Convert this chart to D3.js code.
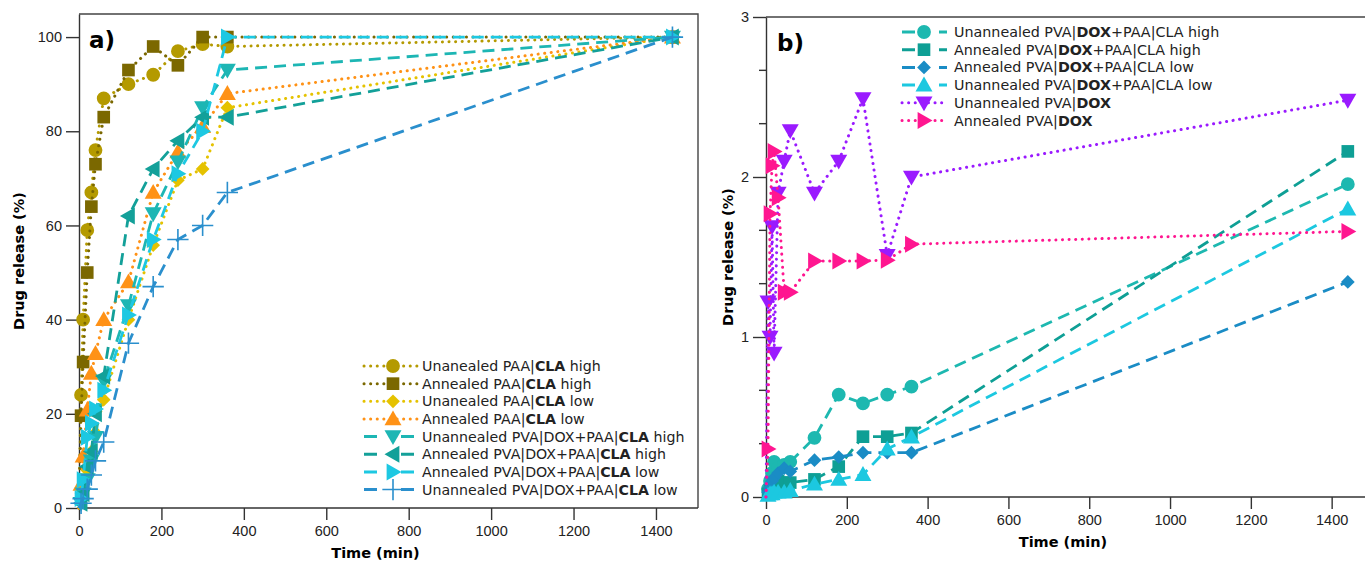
<!DOCTYPE html>
<html>
<head>
<meta charset="utf-8">
<script src="https://cdn.jsdelivr.net/npm/d3@7"></script>
<style>
  body { margin: 0; background: #fff; }
  svg { font-family: "DejaVu Sans", sans-serif; }
  .tick text { font-size: 14.5px; fill: #222; }
  .axis path, .axis line { stroke: #333; stroke-width: 1.4; }
</style>
</head>
<body>
<script>
var W = 1365, H = 565;

// ---- panel a data (time in min, release in %) ----
var timeA = [0, 5, 10, 20, 30, 40, 60, 120, 180, 240, 300, 360, 1440];
var unPaaHigh = [0, 24, 40, 59, 67, 76, 87, 90, 92, 97, 98.5, 98, 100];
var anPaaHigh = [0, 19.6, 31, 50, 64, 73, 83, 93, 98, 94, 100, 100, 100];
var unPaaLow = [0, 2, 4, 8, 12, 16, 23, 40, 55.8, 69.6, 72, 85, 100];
var anPaaLow = [0, 5, 11, 20.8, 28.6, 32.8, 40, 48, 67, 75.6, 81, 88, 100];
var unPvaPaaHigh = [0, 1, 3, 6, 10, 15, 27, 43, 62.5, 73.5, 85, 93, 100];
var anPvaPaaHigh = [0, 1, 3, 8.8, 12, 20, 28, 62, 72, 78, 83, 83, 100];
var anPvaPaaLow = [0, 2, 6, 15, 18, 21, 25, 41, 57, 71, 80, 100, 100];
var unPvaPaaLow = [0, 1, 2, 4, 7, 10, 14, 35, 47, 57, 60, 67, 100];
var ticksAx = [0, 200, 400, 600, 800, 1000, 1200, 1400];
var ticksAy = [0, 20, 40, 60, 80, 100];

// ---- panel b data ----
var timeB = [0, 5, 10, 15, 20, 30, 45, 60, 120, 180, 240, 300, 360, 1440];
var unDoxPaaHigh = [0, 0.05, 0.1, 0.15, 0.22, 0.18, 0.2, 0.22, 0.37, 0.64, 0.585, 0.64, 0.69, 1.955];
var anDoxPaaHigh = [0, 0.02, 0.04, 0.06, 0.08, 0.1, 0.09, 0.09, 0.11, 0.19, 0.377, 0.377, 0.40, 2.16];
var anDoxPaaLow = [0, 0.03, 0.06, 0.1, 0.12, 0.15, 0.18, 0.16, 0.23, 0.25, 0.277, 0.277, 0.277, 1.344];
var unDoxPaaLow = [0, 0.01, 0.02, 0.02, 0.03, 0.03, 0.03, 0.04, 0.08, 0.11, 0.14, 0.30, 0.375, 1.80];
var unDox = [0, 1.22, 1.0, 1.69, 0.9, 1.90, 2.10, 2.29, 1.90, 2.10, 2.49, 1.51, 2.0, 2.48];
var anDox = [0, 0.3, 1.77, 2.07, 2.16, 1.87, 1.28, 1.28, 1.475, 1.475, 1.475, 1.48, 1.58, 1.66];
var ticksBx = [0, 200, 400, 600, 800, 1000, 1200, 1400];
var ticksBy = [0, 1, 2, 3];
var minorBy = [1/3, 2/3, 4/3, 5/3, 7/3, 8/3];

var DOT = "0.1,6.5", DASH = "12,7";

// legend label parts: [text, bold?]
var seriesA = [
  { name: [["Unanealed PAA|", 0], ["CLA", 1], [" high", 0]], vals: unPaaHigh, color: "#b49a00", sym: "circle", dash: DOT },
  { name: [["Annealed PAA|", 0], ["CLA", 1], [" high", 0]], vals: anPaaHigh, color: "#7b6800", sym: "square", dash: DOT },
  { name: [["Unanealed PAA|", 0], ["CLA", 1], [" low", 0]], vals: unPaaLow, color: "#e5c200", sym: "diamond", dash: DOT },
  { name: [["Annealed PAA|", 0], ["CLA", 1], [" low", 0]], vals: anPaaLow, color: "#ff9216", sym: "up", dash: DOT },
  { name: [["Unannealed PVA|DOX+PAA|", 0], ["CLA", 1], [" high", 0]], vals: unPvaPaaHigh, color: "#1db6b4", sym: "down", dash: DASH },
  { name: [["Annealed PVA|DOX+PAA|", 0], ["CLA", 1], [" high", 0]], vals: anPvaPaaHigh, color: "#13a099", sym: "left", dash: DASH },
  { name: [["Annealed PVA|DOX+PAA|", 0], ["CLA", 1], [" low", 0]], vals: anPvaPaaLow, color: "#1dc8e2", sym: "right", dash: DASH },
  { name: [["Unannealed PVA|DOX+PAA|", 0], ["CLA", 1], [" low", 0]], vals: unPvaPaaLow, color: "#2a8fcd", sym: "plus", dash: DASH }
];
var seriesB = [
  { name: [["Unannealed PVA|", 0], ["DOX", 1], ["+PAA|CLA high", 0]], vals: unDoxPaaHigh, color: "#1db8b0", sym: "circle", dash: DASH },
  { name: [["Annealed PVA|", 0], ["DOX", 1], ["+PAA|CLA high", 0]], vals: anDoxPaaHigh, color: "#0e9f95", sym: "square", dash: DASH },
  { name: [["Annealed PVA|", 0], ["DOX", 1], ["+PAA|CLA low", 0]], vals: anDoxPaaLow, color: "#1a8cc5", sym: "diamond", dash: DASH },
  { name: [["Unannealed PVA|", 0], ["DOX", 1], ["+PAA|CLA low", 0]], vals: unDoxPaaLow, color: "#1cc8e0", sym: "up", dash: DASH },
  { name: [["Unannealed PVA|", 0], ["DOX", 1]], vals: unDox, color: "#9a1aff", sym: "down", dash: DOT },
  { name: [["Annealed PVA|", 0], ["DOX", 1]], vals: anDox, color: "#ff1690", sym: "right", dash: DOT }
];

var svg = d3.select("body").append("svg").attr("width", W).attr("height", H);

// marker path for a symbol name
function marker(sym) {
  if (sym == "circle") return d3.symbol(d3.symbolCircle, 150)();
  if (sym == "square") return d3.symbol(d3.symbolSquare, 160)();
  if (sym == "diamond") return d3.symbol(d3.symbolDiamond2, 120)();
  if (sym == "plus") return d3.symbol(d3.symbolPlus, 150)();
  // triangles: pointing up, down, left, right
  var r = 8.5;
  var pts = { up: [[0, -r], [r, r * 0.75], [-r, r * 0.75]],
              down: [[0, r], [r, -r * 0.75], [-r, -r * 0.75]],
              left: [[-r, 0], [r * 0.75, -r], [r * 0.75, r]],
              right: [[r, 0], [-r * 0.75, -r], [-r * 0.75, r]] }[sym];
  return "M" + pts.join("L") + "Z";
}

function drawPanel(o) {
  var x = d3.scaleLinear().domain(o.xDomain).range([o.left, o.right]);
  var y = d3.scaleLinear().domain(o.yDomain).range([o.bottom, o.top]);
  var g = svg.append("g");

  // frame top and right
  g.append("path")
    .attr("d", "M" + o.left + "," + o.top + "H" + o.right + "V" + o.bottom)
    .attr("fill", "none").attr("stroke", "#444").attr("stroke-width", 1.4);

  g.append("g").attr("class", "axis")
    .attr("transform", "translate(0," + o.bottom + ")")
    .call(d3.axisBottom(x).tickValues(o.xTicks).tickFormat(d3.format("d"))
      .tickSize(12).tickPadding(6).tickSizeOuter(0))
    .call(function(s) { s.select(".domain").attr("d", "M" + o.left + ",0H" + o.right); });

  var ya = g.append("g").attr("class", "axis")
    .attr("transform", "translate(" + o.left + ",0)")
    .call(d3.axisLeft(y).tickValues(o.yTicks).tickFormat(d3.format("d"))
      .tickSize(13).tickPadding(4).tickSizeOuter(0));
  if (o.yMinor) {
    ya.selectAll(".minor").data(o.yMinor).join("line")
      .attr("x1", -7).attr("x2", 0)
      .attr("y1", function(d) { return y(d); }).attr("y2", function(d) { return y(d); });
  }

  var line = d3.line().x(function(d) { return x(d[0]); }).y(function(d) { return y(d[1]); });

  o.series.forEach(function(s) {
    var pts = o.time.map(function(t, i) { return [t, s.vals[i]]; });
    g.append("path").datum(pts)
      .attr("d", line).attr("fill", "none")
      .attr("stroke", s.color).attr("stroke-width", s.dash == DOT ? 3 : 2.8)
      .attr("stroke-dasharray", s.dash)
      .attr("stroke-linecap", s.dash == DOT ? "round" : "butt");
    g.selectAll(null).data(pts.slice(1)).join("path")
      .attr("transform", function(d) { return "translate(" + x(d[0]) + "," + y(d[1]) + ")"; })
      .attr("d", marker(s.sym))
      .attr("fill", s.sym == "plus" ? "none" : s.color)
      .attr("stroke", s.sym == "plus" ? s.color : "none")
      .attr("stroke-width", 1.6);
  });

  // legend
  var lg = g.append("g");
  o.series.forEach(function(s, i) {
    var ly = o.legY + i * o.legStep;
    lg.append("line")
      .attr("x1", o.legX0).attr("x2", o.legX1).attr("y1", ly).attr("y2", ly)
      .attr("stroke", s.color).attr("stroke-width", 3)
      .attr("stroke-dasharray", s.dash == DOT ? DOT : "13,24")
      .attr("stroke-linecap", s.dash == DOT ? "round" : "butt");
    lg.append("path")
      .attr("transform", "translate(" + o.legXm + "," + ly + ")")
      .attr("d", marker(s.sym))
      .attr("fill", s.sym == "plus" ? "none" : s.color)
      .attr("stroke", s.sym == "plus" ? s.color : "none")
      .attr("stroke-width", 1.6);
    var t = lg.append("text").attr("x", o.legText).attr("y", ly + 5)
      .attr("font-size", o.legFont).attr("fill", "#222");
    s.name.forEach(function(p) {
      t.append("tspan").attr("font-weight", p[1] ? "bold" : "normal").text(p[0]);
    });
  });

  // panel tag and axis titles
  g.append("text").attr("x", o.tagX).attr("y", o.tagY)
    .attr("font-size", 23).attr("font-weight", "bold").text(o.tag);
  g.append("text")
    .attr("transform", "translate(" + o.ytX + "," + ((o.top + o.bottom) / 2) + ") rotate(-90)")
    .attr("text-anchor", "middle").attr("font-size", 14.5).attr("font-weight", "bold")
    .text("Drug release (%)");
  g.append("text").attr("x", (o.left + o.right) / 2 + o.xtShift).attr("y", o.bottom + 50)
    .attr("text-anchor", "middle").attr("font-size", 14.5).attr("font-weight", "bold")
    .text("Time (min)");
}

drawPanel({
  left: 79, right: 698, top: 14, bottom: 508,
  xDomain: [0, 1502], yDomain: [0, 104.9],
  xTicks: ticksAx, yTicks: ticksAy,
  time: timeA, series: seriesA,
  legY: 366, legStep: 17.65, legX0: 364, legX1: 419, legXm: 393, legText: 422, legFont: 14.2,
  tag: "a)", tagX: 89, tagY: 48, ytX: 24, xtShift: -13
});

drawPanel({
  left: 766, right: 1366, top: 17, bottom: 497,
  xDomain: [0, 1485], yDomain: [0, 3],
  xTicks: ticksBx, yTicks: ticksBy, yMinor: minorBy,
  time: timeB, series: seriesB,
  legY: 32, legStep: 17.7, legX0: 902, legX1: 947, legXm: 924, legText: 954, legFont: 14.3,
  tag: "b)", tagX: 777, tagY: 51, ytX: 733, xtShift: -3
});
</script>
</body>
</html>
